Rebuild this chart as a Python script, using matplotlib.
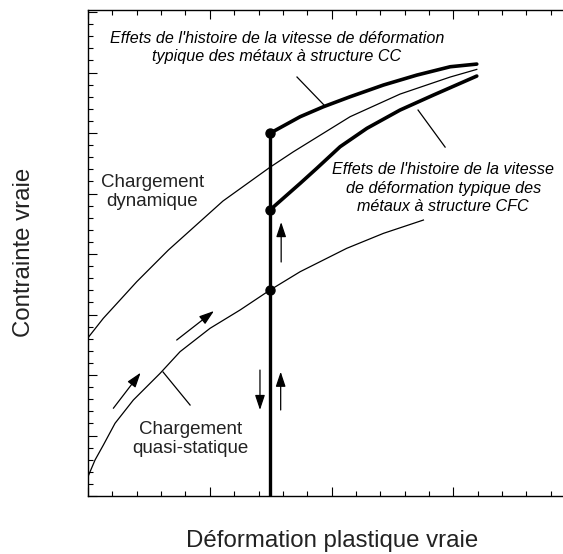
import matplotlib.pyplot as plt
from matplotlib.ticker import MultipleLocator, NullFormatter

plt.rcParams['font.family'] = ['Liberation Sans', 'DejaVu Sans']

# courbe de chargement dynamique (trait fin)
dyn_x = [0, 0.63, 1.38, 2.00, 3.30, 5.54, 7.47, 8.43, 10.76, 12.81, 14.87, 15.96]
dyn_y = [13.08, 14.69, 16.34, 17.71, 20.33, 24.38, 27.17, 28.45, 31.35, 33.22, 34.63, 35.26]

# chargement quasi-statique
qs_x = [0, 0.29, 0.63, 1.11, 1.86, 2.96, 3.78, 5.01, 6.24, 7.47, 8.71, 10.62, 12.13, 13.77]
qs_y = [1.60, 2.98, 4.21, 6.01, 7.93, 10.14, 11.93, 13.86, 15.37, 17.02, 18.54, 20.47, 21.71, 22.81]

# structure CC (au-dessus du dynamique)
cc_x = [7.47, 8.71, 9.66, 10.76, 12.13, 13.50, 14.87, 15.96]
cc_y = [29.98, 31.35, 32.17, 33.00, 33.97, 34.79, 35.48, 35.70]

# structure CFC
cfc_x = [7.47, 8.71, 9.39, 10.35, 11.45, 12.81, 14.18, 15.96]
cfc_y = [23.64, 25.84, 27.08, 28.87, 30.39, 31.90, 33.14, 34.71]

# saut de vitesse
saut_x = 7.47
saut_pts = [29.98, 23.64, 17.02]

# fleches (depart, arrivee)
fleches = [
    ((1.04, 7.25), (2.16, 10.19)),
    ((3.64, 12.89), (5.17, 15.29)),
    ((7.06, 10.41), (7.06, 7.11)),
    ((7.91, 7.11), (7.91, 10.27)),
    ((7.93, 19.34), (7.93, 22.64)),
]

# traits de rappel des legendes
rappels = [
    ((8.58, 34.63), (9.73, 32.23)),
    ((13.55, 31.90), (14.66, 28.84)),
    ((3.08, 10.25), (4.19, 7.52)),
]

fig = plt.figure(figsize=(5.63, 5.54), dpi=100)
ax = fig.add_axes([88 / 563, 58 / 554, 1 - 88 / 563, 486 / 554])

ax.plot(dyn_x, dyn_y, color='black', lw=0.9)
ax.plot(qs_x, qs_y, color='black', lw=0.9)
ax.plot(cc_x, cc_y, color='black', lw=2.6, solid_capstyle='round')
ax.plot(cfc_x, cfc_y, color='black', lw=2.6, solid_capstyle='round')
ax.plot([saut_x, saut_x], [0, saut_pts[0]], color='black', lw=2.4)
ax.plot([saut_x] * len(saut_pts), saut_pts, 'o', color='black', ms=6.5)

for (x0, y0), (x1, y1) in fleches:
    ax.annotate('', xy=(x1, y1), xytext=(x0, y0),
                arrowprops=dict(arrowstyle='-|>,head_length=0.9,head_width=0.3',
                                color='black', lw=0.9, mutation_scale=10,
                                shrinkA=0, shrinkB=0))

for (x0, y0), (x1, y1) in rappels:
    ax.plot([x0, x1], [y0, y1], color='black', lw=0.9)

ax.text(7.76, 37.07, "Effets de l'histoire de la vitesse de déformation\n"
        "typique des métaux à structure CC",
        ha='center', va='center', fontsize=11.6, style='italic', linespacing=1.3)
ax.text(14.58, 25.45, "Effets de l'histoire de la vitesse\n"
        "de déformation typique des\nmétaux à structure CFC",
        ha='center', va='center', fontsize=11.6, style='italic', linespacing=1.3)
ax.text(2.63, 25.12, "Chargement\ndynamique", ha='center', va='center',
        fontsize=13.5, linespacing=1.15, color='#222222')
ax.text(4.19, 4.71, "Chargement\nquasi-statique", ha='center', va='center',
        fontsize=13.5, linespacing=1.15, color='#222222')

fig.text(331.7 / 563, 1 - 541 / 554, "Déformation plastique vraie",
         ha='center', va='center', fontsize=17.3, color='#222222')
fig.text(24 / 563, 1 - 252 / 554, "Contrainte vraie", rotation=90,
         ha='center', va='center', fontsize=17.3, color='#222222')

ax.set_xlim(0, 19.5)
ax.set_ylim(0, 40.17)
ax.xaxis.set_major_locator(MultipleLocator(5))
ax.xaxis.set_minor_locator(MultipleLocator(1))
ax.yaxis.set_major_locator(MultipleLocator(5))
ax.yaxis.set_minor_locator(MultipleLocator(1))
ax.xaxis.set_major_formatter(NullFormatter())
ax.yaxis.set_major_formatter(NullFormatter())
ax.tick_params(which='both', direction='in', top=True, right=False,
               bottom=True, left=True, width=0.8)
ax.tick_params(which='major', length=6.5)
ax.tick_params(which='minor', length=3.3)
ax.spines['right'].set_visible(False)
for s in ['left', 'top', 'bottom']:
    ax.spines[s].set_linewidth(1.0)

fig.savefig('out.png', dpi=100)
